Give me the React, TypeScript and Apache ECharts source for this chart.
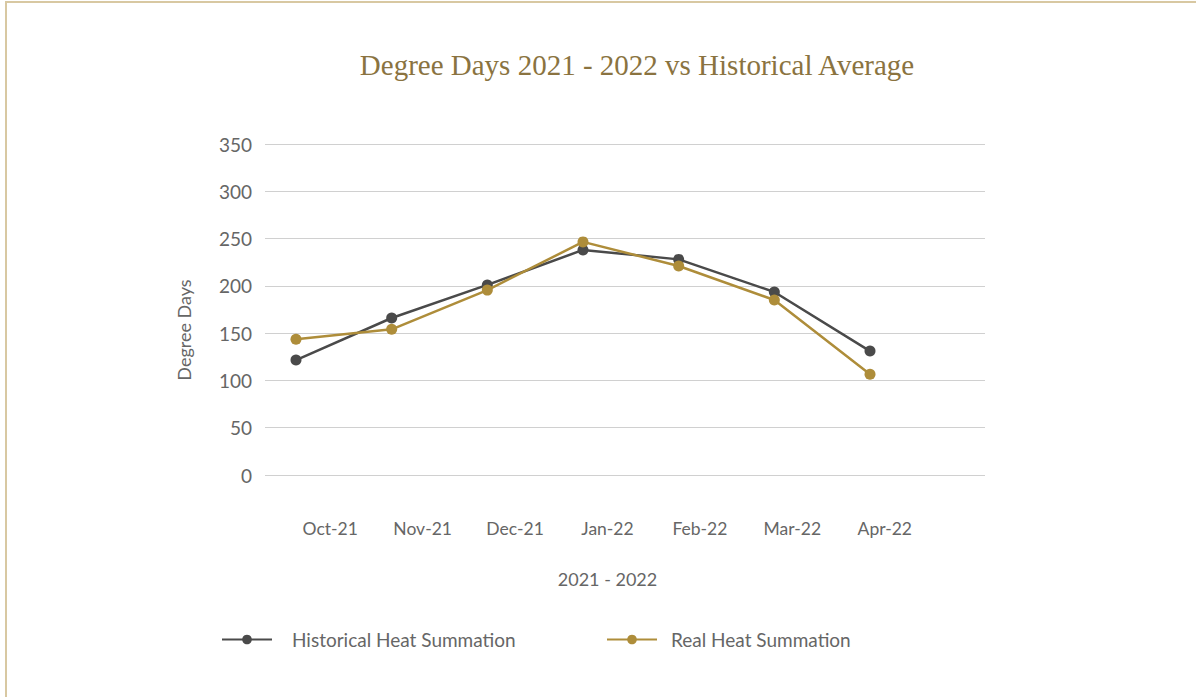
import React, { useEffect, useRef } from "react";
import * as echarts from "echarts";

const categories = ["Oct-21", "Nov-21", "Dec-21", "Jan-22", "Feb-22", "Mar-22", "Apr-22"];
const historical = [121.5, 166, 201, 238, 228, 193.5, 131];
const real = [143.5, 154, 195.5, 246.5, 221, 185, 106.5];
const seriesNames = ["Historical Heat Summation", "Real Heat Summation"];
const yMin = 0;
const yMax = 350;
const yStep = 50;

const GRAY = "#4a4a4a";
const GOLD = "#ae8d3a";
const TXT = "#666666";
const FONT = "Lato";

export default function App() {
  const ref = useRef<HTMLDivElement>(null);
  useEffect(() => {
    if (!ref.current) return;
    const chart = echarts.init(ref.current, null, { renderer: "svg" });
    const mk = (vals: number[]) => vals.map((v, i) => [i, v]);
    chart.setOption({
      animation: false,
      backgroundColor: "#ffffff",
      graphic: [
        { type: "line", shape: { x1: 5, y1: 2, x2: 1196, y2: 2 }, style: { stroke: "#d8c8a2", lineWidth: 2 } },
        { type: "line", shape: { x1: 6, y1: 2, x2: 6, y2: 697 }, style: { stroke: "#d8c8a2", lineWidth: 2 } },
        {
          type: "text",
          x: 637,
          y: 65,
          style: {
            text: "Degree Days 2021 - 2022 vs Historical Average",
            fill: "#8a7340",
            font: '29px "Liberation Serif"',
            textAlign: "center",
            textVerticalAlign: "middle",
          },
        },
        {
          type: "text",
          x: 184,
          y: 330,
          rotation: Math.PI / 2,
          style: {
            text: "Degree Days",
            fill: TXT,
            font: '18px "Lato"',
            textAlign: "center",
            textVerticalAlign: "middle",
          },
        },
      ],
      grid: [
        { left: 265, right: 211, top: 144, bottom: 222 },
        { left: 284, width: 647, top: 144, bottom: 222 },
      ],
      xAxis: [
        { type: "value", gridIndex: 0, min: -0.324, max: 7.202, show: false },
        {
          type: "category",
          gridIndex: 1,
          data: categories,
          boundaryGap: true,
          axisLine: { show: false },
          axisTick: { show: false },
          axisLabel: { color: TXT, fontFamily: FONT, fontSize: 17.5, margin: 44 },
          name: "2021 - 2022",
          nameLocation: "middle",
          nameGap: 95,
          nameTextStyle: { color: TXT, fontFamily: FONT, fontSize: 18 },
        },
      ],
      yAxis: [
        {
          type: "value",
          gridIndex: 0,
          min: yMin,
          max: yMax,
          interval: yStep,
          axisLine: { show: false },
          axisTick: { show: false },
          splitLine: { lineStyle: { color: "#d0d0d0", width: 1 } },
          axisLabel: { color: TXT, fontFamily: FONT, fontSize: 19, margin: 13 },
        },
        { type: "value", gridIndex: 1, min: yMin, max: yMax, show: false },
      ],
      legend: [
        {
          data: [seriesNames[0]],
          left: 221,
          top: 630,
          padding: 0,
          itemWidth: 50,
          itemHeight: 12,
          itemGap: 0,
          textStyle: { color: TXT, fontFamily: FONT, fontSize: 19, padding: [0, 0, 0, 15] },
        },
        {
          data: [seriesNames[1]],
          left: 606,
          top: 630,
          padding: 0,
          itemWidth: 50,
          itemHeight: 12,
          itemGap: 0,
          textStyle: { color: TXT, fontFamily: FONT, fontSize: 19, padding: [0, 0, 0, 9] },
        },
      ],
      series: [
        {
          name: seriesNames[0],
          type: "line",
          xAxisIndex: 0,
          yAxisIndex: 0,
          data: mk(historical),
          symbol: "circle",
          symbolSize: 11,
          lineStyle: { color: GRAY, width: 2.5 },
          itemStyle: { color: GRAY },
          z: 3,
        },
        {
          name: seriesNames[1],
          type: "line",
          xAxisIndex: 0,
          yAxisIndex: 0,
          data: mk(real),
          symbol: "circle",
          symbolSize: 11,
          lineStyle: { color: GOLD, width: 2.5 },
          itemStyle: { color: GOLD },
          z: 4,
        },
      ],
    });
    return () => chart.dispose();
  }, []);
  return (
    <div
      ref={ref}
      style={{ position: "fixed", left: 0, top: 0, width: 1196, height: 697, background: "#fff" }}
    />
  );
}
